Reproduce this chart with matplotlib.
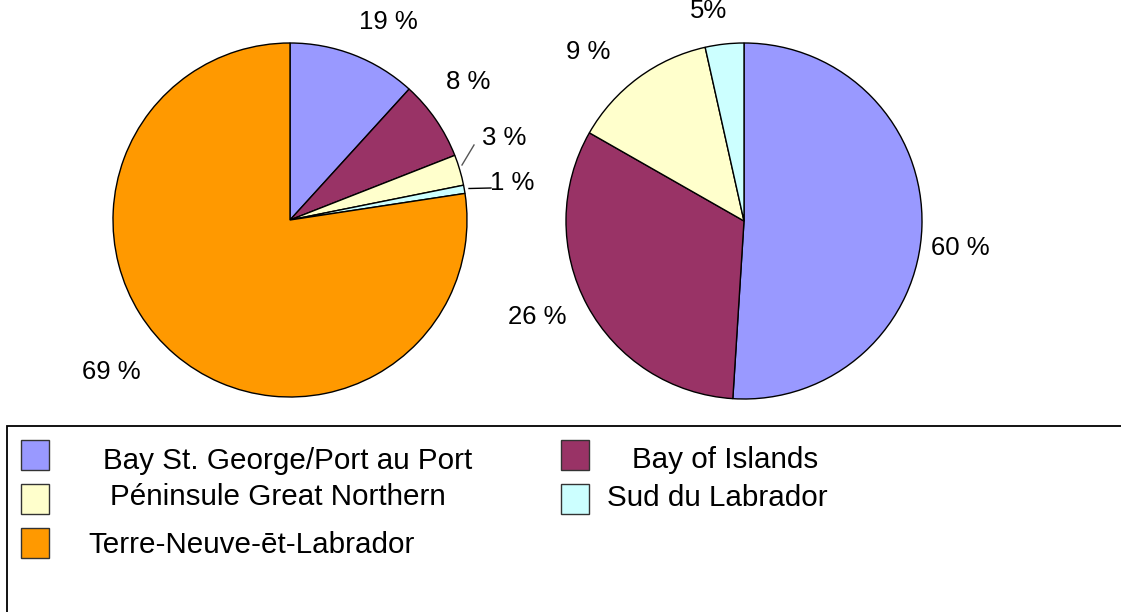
import matplotlib
matplotlib.use("Agg")
import matplotlib.pyplot as plt
from matplotlib.patches import Rectangle

plt.rcParams['font.family'] = ['Liberation Sans', 'DejaVu Sans']

# ---- data ----
categories = ["Bay St. George/Port au Port", "Bay of Islands",
              "Péninsule Great Northern", "Sud du Labrador",
              "Terre-Neuve-ēt-Labrador"]
colors = ["#9999FF", "#993366", "#FFFFCC", "#CCFFFF", "#FF9900"]

# slice sizes as drawn in the picture (percent)
left_values = [11.75, 7.3, 2.8, 0.75, 77.4]
left_labels = ["19 %", "8 %", "3 %", "1 %", "69 %"]

right_values = [51.0, 32.25, 13.25, 3.5]
right_labels = ["60 %", "26 %", "9 %", "5%"]

W, H = 1121, 612
fig = plt.figure(figsize=(W / 100, H / 100), dpi=100, facecolor="white")
ax = fig.add_axes([0, 0, 1, 1])


def Y(y):
    return H - y


wedge_kw = dict(edgecolor="black", linewidth=1.0)
ax.pie(left_values, colors=colors[:len(left_values)], startangle=90,
       counterclock=False, center=(290, Y(220)), radius=177,
       wedgeprops=wedge_kw, frame=False)
ax.pie(right_values, colors=colors[:len(right_values)], startangle=90,
       counterclock=False, center=(744, Y(221)), radius=178,
       wedgeprops=wedge_kw, frame=False)

ax.set_xlim(0, W)
ax.set_ylim(0, H)
ax.set_aspect("auto")
ax.axis("off")

fs = 18.5
# left pie labels
left_pos = [(388, 22), (468, 82), (504, 138), (512, 183), (111, 372)]
for lab, (x, y) in zip(left_labels, left_pos):
    t = ax.text(x, Y(y), lab, fontsize=fs, ha="center", va="center", color="black")
    if lab == "8 %":
        clip = Rectangle((0, Y(87.5)), W, 100, transform=ax.transData)
        t.set_clip_path(clip)
# leader lines
ax.plot([462, 474], [Y(165), Y(145)], color="#555555", lw=1.0)
ax.plot([469, 491], [Y(188.5), Y(188)], color="black", lw=1.0)

# right pie labels
right_pos = [(960, 248), (537, 317), (588, 52), (709, 11)]
for lab, (x, y) in zip(right_labels, right_pos):
    ax.text(x, Y(y), lab, fontsize=fs, ha="center", va="center", color="black")

# legend box
ax.add_patch(Rectangle((7, Y(700)), 1200, 700 - 426, fill=False,
                       edgecolor="black", lw=1.3, clip_on=False))

lfs = 21.3
# (category index, swatch x, swatch top y, text left x, text baseline y)
legend_layout = [
    (0, 21, 440, 103, 469),
    (1, 561, 440, 632, 468),
    (2, 21, 484, 110, 505),
    (3, 561, 484, 607, 506),
    (4, 21, 528, 88, 553),
]
for idx, sx, sy, tx, ty in legend_layout:
    ax.add_patch(Rectangle((sx, Y(sy + 30)), 28, 30, facecolor=colors[idx],
                           edgecolor="#333333", lw=1.0))
    ax.text(tx, Y(ty), categories[idx], fontsize=lfs, ha="left",
            va="baseline", color="black")

fig.savefig("out.png", dpi=100, facecolor="white")
